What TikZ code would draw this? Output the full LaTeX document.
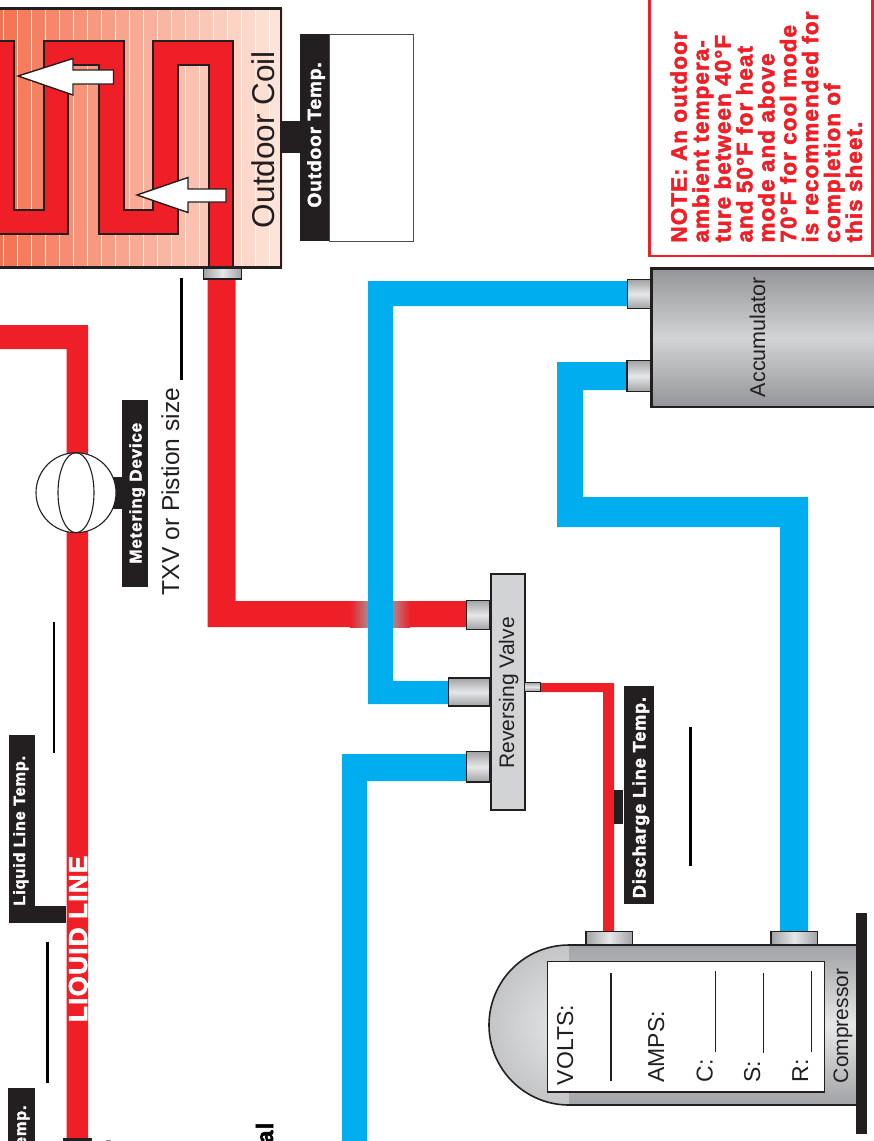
\documentclass[tikz,border=0pt]{standalone}
\usepackage{fontspec}
\setmainfont{Liberation Sans}
\newfontfamily\heavy{Liberation Sans}[BoldFeatures={FakeBold=2.2,LetterSpace=5}]
\newcommand{\sz}[1]{\fontsize{#1}{#1}\selectfont}
\definecolor{pipeR}{HTML}{EE1F27}
\definecolor{pipeB}{HTML}{00AEEF}
\definecolor{ink}{HTML}{231F20}
\definecolor{metal}{HTML}{D1D3D4}
\definecolor{metalD}{HTML}{A0A2A5}
\definecolor{metalL}{HTML}{E6E7E8}
\definecolor{shellD}{HTML}{939598}
\definecolor{coilL}{HTML}{F4704F}
\definecolor{coilR}{HTML}{FDE4DA}
\tikzset{
  lab/.style={rotate=90,anchor=base west,inner sep=0pt,outer sep=0pt,text=ink},
  tag/.style={lab,text=white,font=\heavy\bfseries\sz{17}},
  notetext/.style={lab,text=pipeR,font=\heavy\bfseries\sz{22.4}},
  blackfill/.style={fill=ink,draw=none},
  stubv/.style={draw=ink,line width=1.2pt,top color=metalD,bottom color=metalD,middle color=metalL},
  stubh/.style={draw=ink,line width=1.8pt,left color=metalD,right color=metalD,middle color=metalL},
  fillline/.style={draw=ink,line width=1.2pt},
  pipered/.style={fill=pipeR,draw=none},
  pipeblue/.style={fill=pipeB,draw=none},
  coiltube/.style={fill=pipeR,draw=ink,line width=2pt,line join=miter},
  arrowshape/.style={fill=white,draw=ink,line width=1.4pt,line join=miter},
  writeline/.style={draw=black,line width=2.2pt},
}
\begin{document}
\begin{tikzpicture}[x=1pt,y=-1pt]
\useasboundingbox (0,0) rectangle (874,1141);
\clip (0,0) rectangle (874,1141);
\fill[white] (0,0) rectangle (874,1141);

% outdoor coil
\foreach \i in {0,...,20}{
  \pgfmathsetmacro{\p}{100-\i*5}
  \fill[coilL!\p!coilR] ({-10.7+14*\i},8) rectangle ({3.3+14*\i},268);
}
\foreach \i in {0,...,19}{
  \fill[white] ({2.6+14*\i},8) rectangle ({4+14*\i},268);
}
\draw[coiltube] (208.5,267) -- (208.5,65) -- (178,65) -- (178,233.5) -- (98.5,233.5) -- (98.5,65) -- (68,65) -- (68,233.5) -- (-6,233.5) -- (-6,40.7) -- (14,40.7) -- (14,210) -- (44,210) -- (44,40.7) -- (124,40.7) -- (124,210) -- (153,210) -- (153,40.7) -- (233,40.7) -- (233,267) -- cycle;
\draw[ink,line width=2.4pt] (-6,8.3) rectangle (281,267.5);
\draw[arrowshape] (18,76) -- (73,58.5) -- (73,70) -- (113.5,70) -- (113.5,84) -- (73,84) -- (73,95) -- cycle;
\draw[arrowshape] (137,195) -- (188,177.5) -- (188,189) -- (226,189) -- (226,202) -- (188,202) -- (188,212.5) -- cycle;
\node[lab,font=\sz{31.5}] (coillabel) at (274,228) {Outdoor Coil};

% outdoor temp tag
\draw[draw=ink!80,line width=1pt,fill=white] (329,34) rectangle (413,241);
\fill[blackfill] (300,34) rectangle (329,241);
\fill[blackfill] (281,121) rectangle (300,153);
\node[tag,font=\heavy\bfseries\sz{19}] (outtemp) at (321,207.5) {Outdoor Temp.};

% note box
\draw[pipeR,line width=2.4pt] (649.5,-3) -- (649.5,256) -- (872.5,256) -- (872.5,-3);
\foreach \t/\i in {NOTE: An outdoor/0,ambient tempera-/1,ture between 40°F/2,and 50°F for heat/3,mode and above/4,70°F for cool mode/5,is recommended for/6,completion of/7,this sheet./8}{
  \node[notetext] (note\i) at ({686.7+21.9*\i},242.5) {\t};
}

% liquid line (upper part and long run)
\fill[pipered] (-2,325) -- (88,325) -- (88,1139) -- (66.5,1139) -- (66.5,349) -- (-2,349) -- cycle;
\fill[blackfill] (63,1138) rectangle (92,1143);
\fill[ink!50] (106,1140) rectangle (111,1143);
\node[lab,text=white,font=\heavy\bfseries\sz{26}] (liquid) at (87,1022) {LIQUID LINE};

% metering device
\fill[blackfill] (112,477) rectangle (122,509);
\fill[blackfill] (121.5,399.5) rectangle (148,586.5);
\draw[ink,line width=1.1pt,fill=white] (76,492.7) circle (40);
\draw[ink,line width=1.1pt] (76,492.7) ellipse (18 and 40);
\node[tag,font=\heavy\bfseries\sz{16.9}] (metering) at (141.5,563.5) {Metering Device};
\node[lab,font=\sz{24.5}] (txv) at (179,595) {TXV or Pistion size};
\draw[writeline] (181.5,278) -- (181.5,380);

% liquid line temp
\fill[blackfill] (9,735) rectangle (35,922.5);
\fill[blackfill] (35,906) rectangle (66,922.5);
\node[tag,font=\heavy\bfseries\sz{16.3}] (liqtemp) at (25,905.5) {Liquid Line Temp.};
\draw[writeline] (54,622) -- (54,753);
\draw[writeline] (47.5,941.5) -- (47.5,1083);

% cut-off labels at the lower edge
\fill[blackfill] (8,1088) rectangle (34.5,1146);
\node[tag,font=\heavy\bfseries\sz{16.3}] (cuttemp) at (26,1146) {emp.};
\node[lab,text=black,font=\heavy\bfseries\sz{23.5}] (cutal) at (273,1143.5) {al};

% red line from coil to reversing valve
\fill[pipered] (207.5,275) -- (235.5,275) -- (235.5,601) -- (468,601) -- (468,627) -- (207.5,627) -- cycle;
\shade[left color=pipeR,right color=metalD!80!pipeR] (350,601) rectangle (368,627);
\shade[left color=metalD!80!pipeR,right color=pipeR] (392,601) rectangle (410,627);
\draw[stubh] (203.5,268) rectangle (241.5,279);

% blue pipes
\fill[pipeblue] (629,281) -- (368,281) -- (368,704) -- (450,704) -- (450,681) -- (393,681) -- (393,306) -- (629,306) -- cycle;
\fill[pipeblue] (629,362) -- (557,362) -- (557,527) -- (780,527) -- (780,932) -- (808,932) -- (808,497) -- (583,497) -- (583,390) -- (629,390) -- cycle;
\fill[pipeblue] (468,754) -- (342,754) -- (342,1146) -- (367,1146) -- (367,781) -- (468,781) -- cycle;

% reversing valve
\draw[stubv] (466.5,600.5) rectangle (490,629.5);
\draw[stubv] (448.5,678) rectangle (490,706);
\draw[stubv] (466.5,751.5) rectangle (490,782);
\draw[ink,line width=2pt,fill=metal] (490.5,573.5) rectangle (524.5,809.5);
\node[lab,font=\sz{21}] (revvalve) at (514,768.5) {Reversing Valve};
\fill[pipered] (540,683) -- (614,683) -- (614,932) -- (603,932) -- (603,692) -- (540,692) -- cycle;
\draw[stubv,line width=1pt] (524.5,682.5) rectangle (540,691);

% discharge line temp
\fill[blackfill] (613.5,790) rectangle (623,824);
\fill[blackfill] (623.5,685.5) rectangle (654,904);
\node[tag,font=\heavy\bfseries\sz{18}] (dischtemp) at (645.5,898) {Discharge Line Temp.};
\draw[writeline] (690.5,727) -- (690.5,866);

% accumulator
\draw[stubv] (627.5,279.5) rectangle (651,308.5);
\draw[stubv] (627,360.5) rectangle (651,391.5);
\draw[ink,line width=2.4pt,top color=shellD,bottom color=shellD,middle color=metal] (651.5,268.5) rectangle (880,407);
\node[lab,font=\sz{21.5}] (accum) at (765,397) {Accumulator};

% compressor
\begin{scope}
  \clip (569,945) arc[start angle=270,end angle=90,radius=80] -- cycle;
  \shade[inner color=metalL,outer color=metalD] (569,1025) circle (160);
\end{scope}
\shade[top color=metalD,bottom color=metalD,middle color=metalL] (569,945) rectangle (857,1105);
\draw[ink,line width=1.6pt] (857,945) -- (569,945) arc[start angle=270,end angle=90,radius=80] -- (857,1105);
\draw[ink,line width=1.2pt,fill=white] (547.5,961.5) rectangle (824.5,1092);
\fill[blackfill] (856,913) rectangle (867,1133.5);
\draw[stubh] (586,931.5) rectangle (632.5,944.5);
\draw[stubh] (771,931.5) rectangle (817.5,944.5);
\node[lab,font=\sz{23}] (volts) at (573,1085) {VOLTS:};
\node[lab,font=\sz{23}] (amps) at (664,1082.5) {AMPS:};
\node[lab,font=\sz{23}] (ampc) at (712.5,1082.5) {C:};
\node[lab,font=\sz{23}] (amps2) at (760,1082.5) {S:};
\node[lab,font=\sz{23}] (ampr) at (808,1082.5) {R:};
\node[lab,font=\sz{21}] (comp) at (848,1083) {Compressor};
\draw[fillline] (611,973) -- (611,1081);
\draw[fillline] (715.5,971) -- (715.5,1052);
\draw[fillline] (763.5,973) -- (763.5,1053);
\draw[fillline] (811.5,971) -- (811.5,1052);
\end{tikzpicture}
\end{document}
